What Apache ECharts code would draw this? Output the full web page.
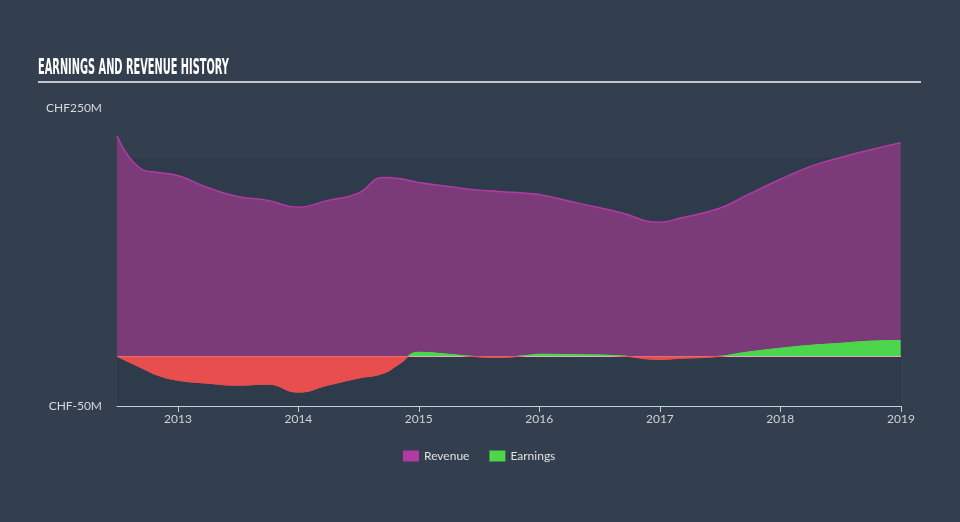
<!DOCTYPE html>
<html><head><meta charset="utf-8">
<script src="https://cdn.jsdelivr.net/npm/echarts@6/dist/echarts.min.js"></script>
<style>html,body{margin:0;padding:0;background:#333f4e;}#c{width:960px;height:522px;}</style>
</head><body><div id="c"></div>
<script>
const dates = ['2012-06-30','2012-09-15','2012-11-01','2012-12-31','2013-03-31','2013-06-30','2013-09-30','2013-12-31','2014-03-31','2014-06-30','2014-09-15','2014-11-01','2015-01-01','2015-04-01','2015-06-10','2015-08-31','2015-11-30','2016-01-01','2016-05-01','2016-08-31','2017-01-01','2017-03-01','2017-07-01','2017-09-20','2017-12-31','2018-04-01','2018-07-01','2018-09-20','2019-01-01'];
const revenue = [222,188,185,182,170,161,157,150,157,164,180,179,175,171,168,166,164,163,154,145,135,139,149,162,178,191,200,207,215];
const earnings = [0,-12,-19,-24,-27,-29,-28,-36,-29,-22,-17,-8,4,2,0,-1,1,2,1.5,0.5,-3,-2,0,4,8,11,13,15,16];
const yTickLabels = {'-50':'CHF-50M','250':'CHF250M'};
const xMin = '2012-06-30', xMax = '2019-01-02';
const bandRange = [-50, 200];
const posColor = '#4cd64c', negColor = '#e84e4e';

const chart = echarts.init(document.getElementById('c'));
const font = 'Lato, "Open Sans", sans-serif';
chart.setOption({
  backgroundColor: '#333f4e',
  animation: false,
  graphic: [
    {type: 'text', left: 38, top: 58, scaleX: 0.52, style: {text: 'EARNINGS AND REVENUE HISTORY', fill: '#ffffff', font: 'bold 21px "DejaVu Sans Condensed", "DejaVu Sans", sans-serif'}},
    {type: 'rect', shape: {x: 38, y: 81, width: 883, height: 2}, style: {fill: '#c4c8ce'}}
  ],
  legend: {
    bottom: 55, left: 398,
    itemWidth: 16, itemHeight: 11, itemGap: 20, icon: 'rect',
    textStyle: {color: '#e0e0e0', fontSize: 12, fontFamily: font},
    data: ['Revenue', 'Earnings']
  },
  grid: {left: 117, right: 59, top: 108, bottom: 116},
  xAxis: {
    type: 'time', min: xMin, max: xMax,
    minInterval: 365 * 86400000, splitNumber: 7,
    axisLine: {onZero: false, lineStyle: {color: '#c8ccd4', width: 1}},
    axisTick: {show: true, length: 6, lineStyle: {color: '#c8ccd4'}},
    splitLine: {show: false},
    axisLabel: {
      color: '#cfd2d6', fontSize: 12, fontFamily: font, margin: 7, showMaxLabel: true,
      formatter: function (v) { const d = new Date(v); return d.getUTCMonth() === 0 ? String(d.getUTCFullYear()) : ''; }
    }
  },
  yAxis: {
    type: 'value', min: -50, max: 250, interval: 50,
    axisLine: {show: false}, axisTick: {show: false}, splitLine: {show: false},
    axisLabel: {
      color: '#d6d9dd', fontSize: 12, fontFamily: font, margin: 15,
      formatter: function (v) { return yTickLabels[String(v)] || ''; }
    }
  },
  series: [
    {
      name: 'band', type: 'line', z: 0, silent: true, showSymbol: false,
      data: [[xMin, bandRange[0]], [xMax, bandRange[0]]],
      lineStyle: {opacity: 0},
      markArea: {silent: true, z: 0, itemStyle: {color: '#2e3b4b'}, data: [[{yAxis: bandRange[0]}, {yAxis: bandRange[1]}]]},
      markLine: {silent: true, z: 1, symbol: 'none', label: {show: false}, lineStyle: {color: '#ffffff', width: 1, type: 'solid'}, data: [{yAxis: 0}]}
    },
    {
      name: 'Revenue', type: 'line', smooth: true, showSymbol: false, z: 2,
      data: dates.map((d, i) => [d, revenue[i]]),
      itemStyle: {color: '#b23aa5'},
      lineStyle: {color: '#b23aa5', width: 1.5},
      areaStyle: {color: '#7b3a78', opacity: 1}
    },
    {
      name: 'Earnings', type: 'line', smooth: true, showSymbol: false, z: 3,
      data: dates.map((d, i) => [d, earnings[i]]),
      itemStyle: {color: posColor},
      lineStyle: {width: 1, color: posColor},
      areaStyle: {opacity: 1, color: posColor}
    }
  ]
});
const y0 = chart.convertToPixel({yAxisIndex: 0}, 0);
const H = 522;
function splitGrad() {
  return new echarts.graphic.LinearGradient(0, 0, 0, H, [
    {offset: 0, color: posColor}, {offset: y0 / H, color: posColor},
    {offset: y0 / H, color: negColor}, {offset: 1, color: negColor}
  ], true);
}
chart.setOption({series: [{}, {}, {lineStyle: {color: splitGrad()}, areaStyle: {color: splitGrad()}}]});
</script></body></html>
